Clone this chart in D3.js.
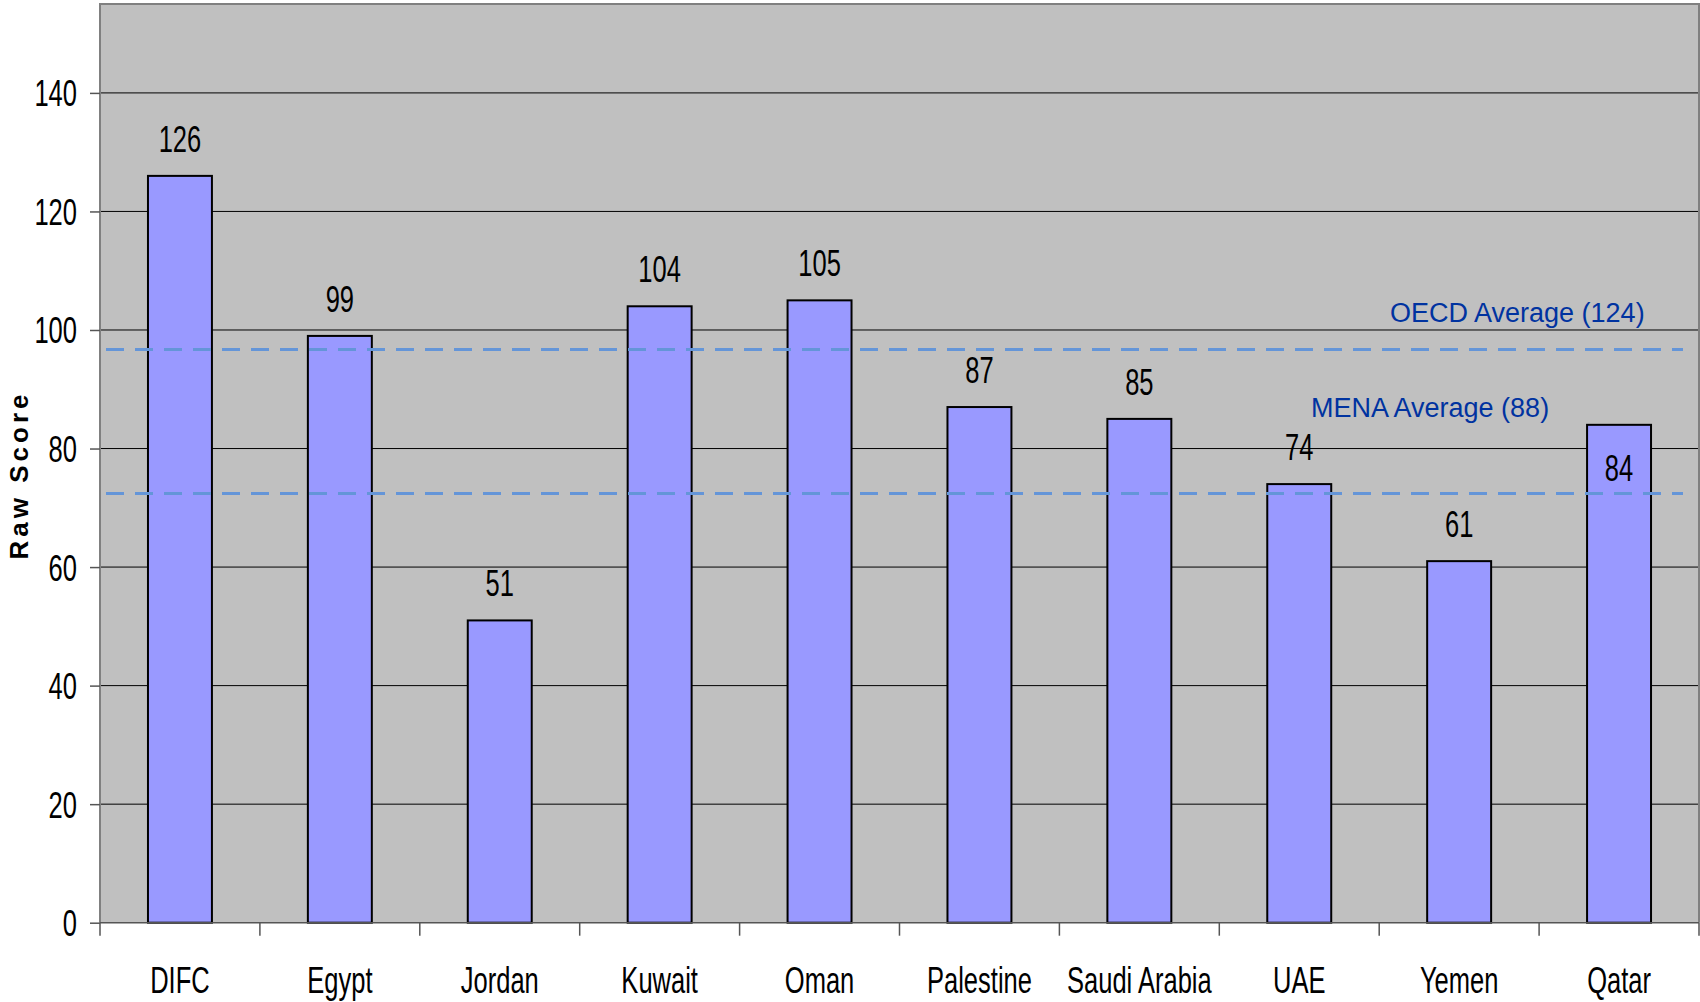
<!DOCTYPE html>
<html>
<head>
<meta charset="utf-8">
<script src="https://cdn.jsdelivr.net/npm/d3@7"></script>
<style>
  body { margin: 0; background: #fff; }
  svg { display: block; }
</style>
</head>
<body>
<div id="chart"></div>
<script>
// data
var countries = ["DIFC", "Egypt", "Jordan", "Kuwait", "Oman", "Palestine", "Saudi Arabia", "UAE", "Yemen", "Qatar"];
var scores = [126, 99, 51, 104, 105, 87, 85, 74, 61, 84];
var yTicks = [0, 20, 40, 60, 80, 100, 120, 140];
// the reference lines sit at these heights on the axis (labels carry the real averages)
var avgNames = ["OECD Average (124)", "MENA Average (88)"];
var avgLevels = [96.7, 72.4];

var W = 1700, H = 1002;
var margin = {top: 4, right: 1, bottom: 79.3, left: 100};
var width = W - margin.left - margin.right,
    height = H - margin.top - margin.bottom;
var narrow = "scale(0.69,1)";
var font = "'Liberation Sans', Arial, sans-serif";

var svg = d3.select("#chart").append("svg")
    .attr("width", W)
    .attr("height", H);

var g = svg.append("g")
    .attr("transform", "translate(" + margin.left + "," + margin.top + ")");

var x = d3.scaleBand().domain(countries).range([0, width])
    .paddingInner(0.6).paddingOuter(0.3);
var y = d3.scaleLinear().domain([0, 155]).range([height, 0]);
var step = x.step();

// plot background
g.append("rect")
    .attr("width", width).attr("height", height)
    .attr("fill", "#c0c0c0");

// gridlines
g.selectAll(".grid").data(yTicks.filter(function(d){ return d > 0; }))
  .enter().append("line")
    .attr("x1", 0).attr("x2", width)
    .attr("y1", function(d){ return y(d); })
    .attr("y2", function(d){ return y(d); })
    .attr("stroke", "#000").attr("stroke-width", 1);

// border
g.append("path")
    .attr("d", "M0," + height + "V0H" + width + "V" + height)
    .attr("fill", "none").attr("stroke", "#808080").attr("stroke-width", 2);

// bars
g.selectAll(".bar").data(countries)
  .enter().append("rect")
    .attr("x", function(d){ return x(d); })
    .attr("width", x.bandwidth())
    .attr("y", function(d, i){ return y(scores[i]); })
    .attr("height", function(d, i){ return height - y(scores[i]); })
    .attr("fill", "#9999ff")
    .attr("stroke", "#000").attr("stroke-width", 2);

// value labels
g.selectAll(".val").data(countries)
  .enter().append("text")
    .attr("transform", function(d, i){
        var ty = d === "Qatar" ? y(scores[i]) + 56 : y(scores[i]) - 24;
        return "translate(" + (x(d) + x.bandwidth() / 2) + "," + ty + ")" + narrow;
    })
    .attr("text-anchor", "middle")
    .style("font-family", font).style("font-size", "37px")
    .text(function(d, i){ return scores[i]; });

// average lines
g.selectAll(".avg").data(avgLevels)
  .enter().append("line")
    .attr("x1", 6).attr("x2", width - 16)
    .attr("y1", function(d){ return y(d); })
    .attr("y2", function(d){ return y(d); })
    .attr("stroke", "#6495d8").attr("stroke-width", 3)
    .attr("stroke-dasharray", "18,11");

var avgLabelX = [1390, 1311];
g.selectAll(".avgLabel").data(avgNames)
  .enter().append("text")
    .attr("x", function(d, i){ return avgLabelX[i] - margin.left; })
    .attr("y", function(d, i){ return y(avgLevels[i]) - 28 - (i === 1 ? 49 : 0); })
    .attr("fill", "#0033a0")
    .style("font-family", font).style("font-size", "27px")
    .text(function(d){ return d; });

// y axis
var yAxis = g.append("g")
    .call(d3.axisLeft(y).tickValues(yTicks).tickSize(10).tickFormat(""));
yAxis.select(".domain").remove();
yAxis.selectAll(".tick line").attr("stroke", "#555").attr("stroke-width", 1.5);
yAxis.selectAll(".tick").append("text")
    .attr("transform", "translate(-23,13)" + narrow)
    .attr("text-anchor", "end")
    .attr("fill", "#000")
    .style("font-family", font).style("font-size", "37px")
    .text(function(d){ return d; });

// x axis: ticks at band boundaries
var xEdges = countries.map(function(c){ return x(c) - step * x.paddingOuter(); }).concat([width]);
g.selectAll(".xtick").data(xEdges)
  .enter().append("line")
    .attr("x1", function(d){ return d; }).attr("x2", function(d){ return d; })
    .attr("y1", height).attr("y2", height + 13)
    .attr("stroke", "#555").attr("stroke-width", 1.5);
g.append("line")
    .attr("x1", 0).attr("x2", width)
    .attr("y1", height).attr("y2", height)
    .attr("stroke", "#555").attr("stroke-width", 1.5);

g.selectAll(".xlab").data(countries)
  .enter().append("text")
    .attr("transform", function(d){
        return "translate(" + (x(d) + x.bandwidth() / 2) + "," + (height + 70) + ")" + narrow;
    })
    .attr("text-anchor", "middle")
    .style("font-family", font).style("font-size", "37px")
    .text(function(d){ return d; });

// y axis title
svg.append("text")
    .attr("transform", "translate(28,475) rotate(-90)")
    .attr("text-anchor", "middle")
    .style("font-family", font).style("font-size", "26px")
    .style("font-weight", "bold").style("letter-spacing", "4px")
    .text("Raw Score");
</script>
</body>
</html>
